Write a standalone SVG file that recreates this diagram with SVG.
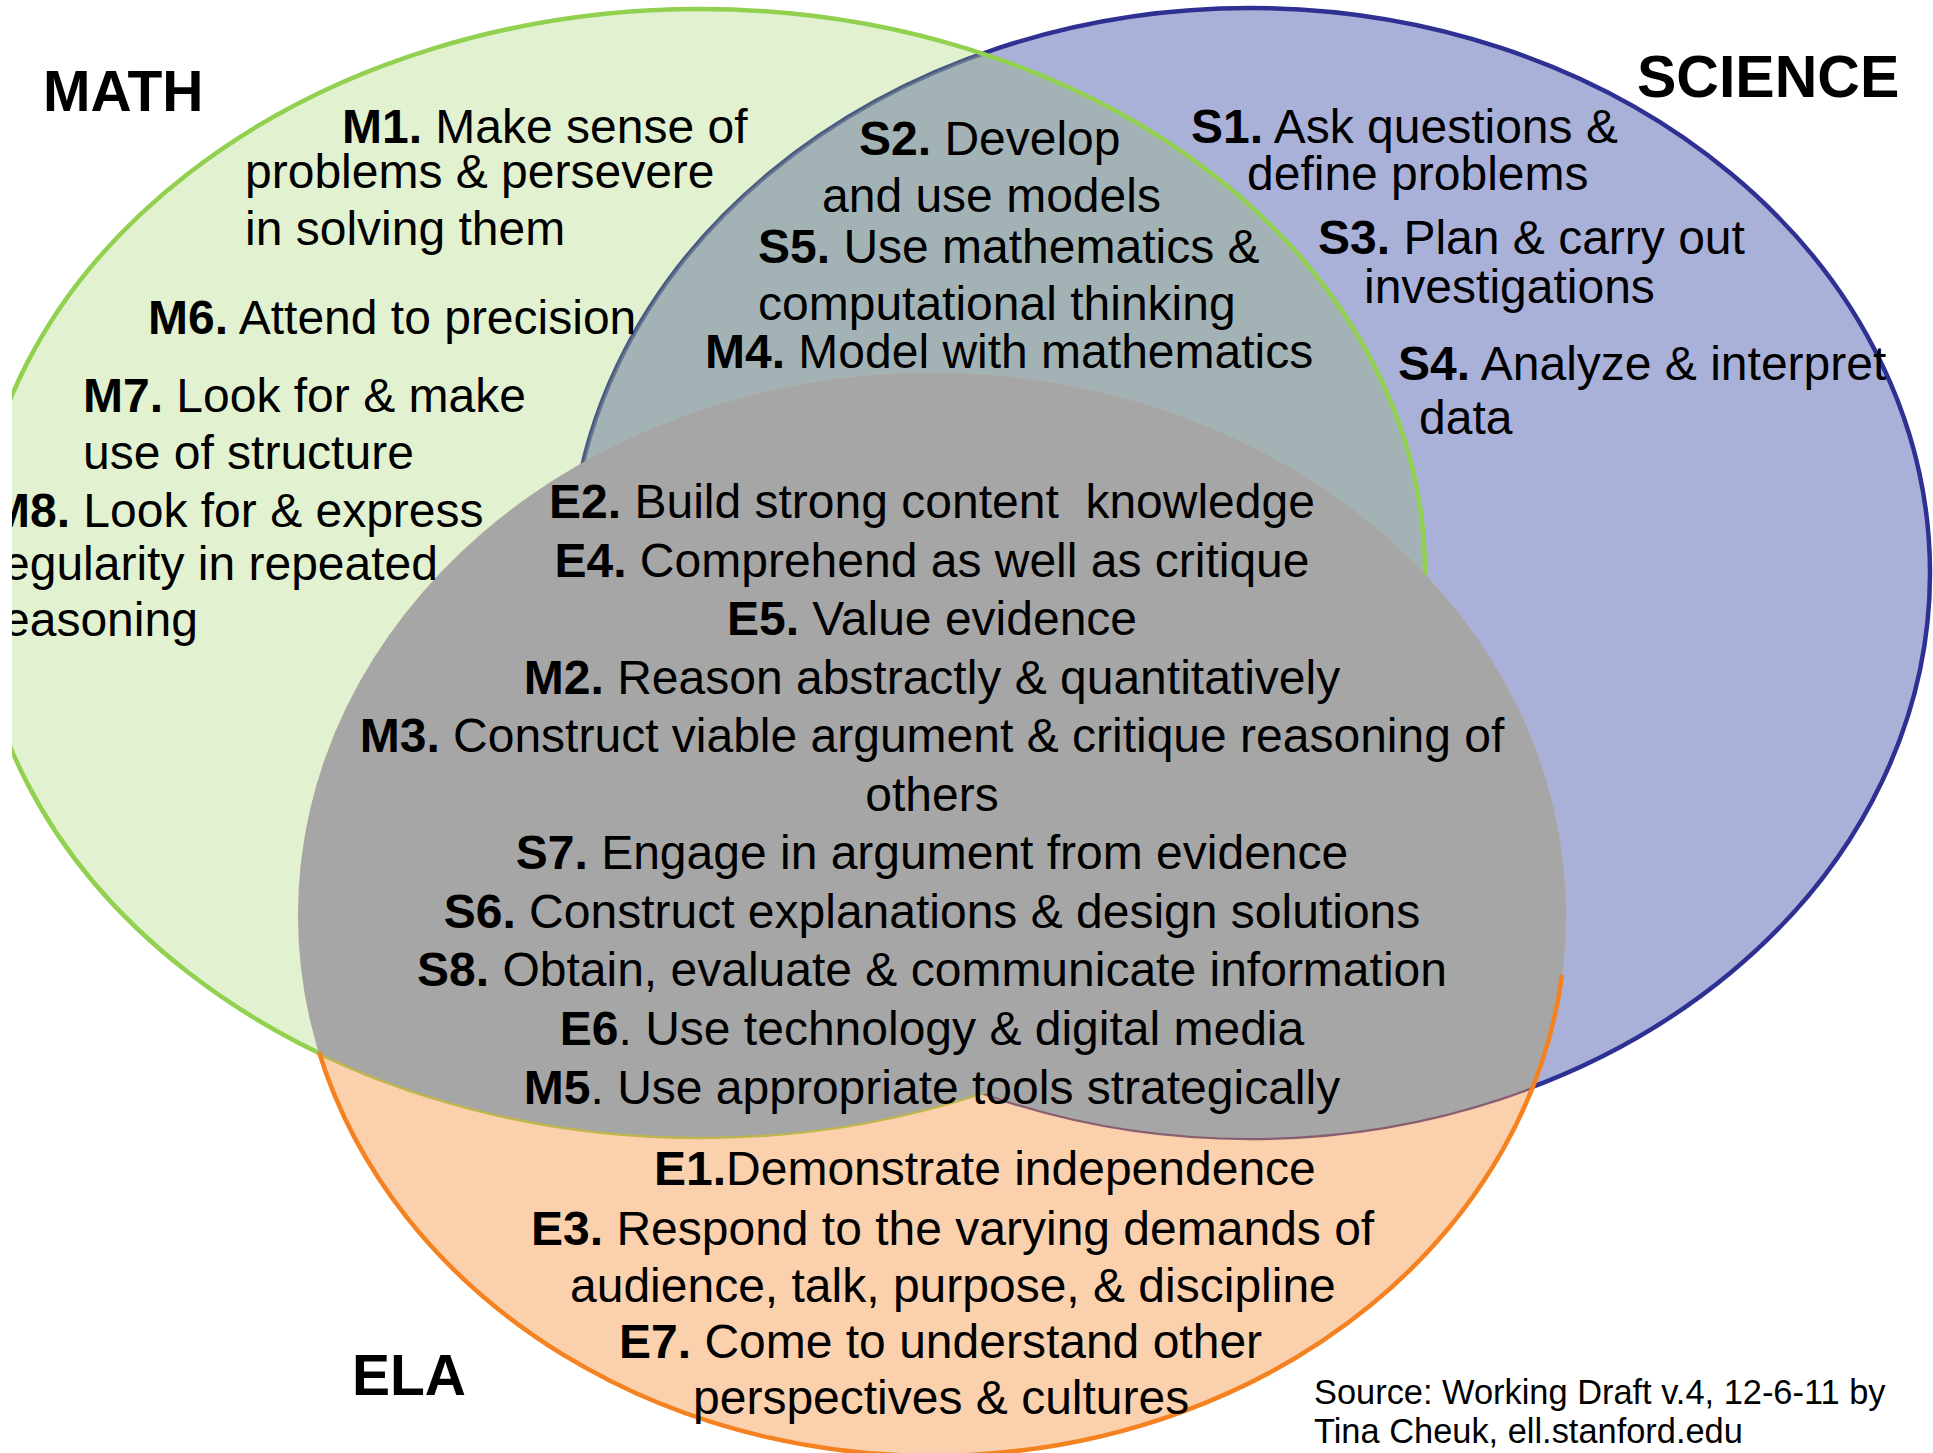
<svg xmlns="http://www.w3.org/2000/svg" width="1933" height="1453" viewBox="0 0 1933 1453">
<style>
text{font-family:"Liberation Sans",Arial,sans-serif;font-size:48px;fill:#000}
.b{font-weight:bold}
.h{font-size:57px;font-weight:bold}
.src{font-size:34.4px}
.c{text-anchor:middle}
</style>
<defs>
<clipPath id="frame"><rect x="12" y="0" width="1921" height="1453"/></clipPath>
<clipPath id="mathOrSci">
<ellipse cx="700" cy="573" rx="725" ry="564"/>
<ellipse cx="1250" cy="573" rx="680" ry="565"/>
</clipPath>
<clipPath id="mathOnly">
<ellipse cx="700" cy="573" rx="725" ry="564"/>
</clipPath>
</defs>
<rect width="1933" height="1453" fill="#fff"/>
<g clip-path="url(#frame)">
<g id="science">
<ellipse cx="1250" cy="573" rx="680" ry="565" fill="#aab1d9" stroke="#2e3192" stroke-width="4.5"/>
</g>
<g id="math">
<ellipse cx="700" cy="573" rx="725" ry="564" fill="#92d050" fill-opacity="0.27"/>
<ellipse cx="1250" cy="573" rx="680" ry="565" fill="#a2a9b8" fill-opacity="0.35" clip-path="url(#mathOnly)"/>
<ellipse cx="700" cy="573" rx="725" ry="564" fill="none" stroke="#92d050" stroke-width="4.5"/>
</g>
<g id="ela">
<ellipse cx="932" cy="915" rx="634" ry="542" fill="#f79646" fill-opacity="0.45"/>
</g>
<g id="shared-core">
<ellipse cx="932" cy="915" rx="634" ry="542" fill="#a6a6a6" clip-path="url(#mathOrSci)"/>
</g>
<g id="ela-outline">
<path d="M1562,975 A634,542 0 0 1 319,1052" fill="none" stroke="#f58220" stroke-width="4.5"/>
</g>

<g id="math-labels">
<text x="43" y="111" class="h">MATH</text>
<text x="342" y="143"><tspan class="b">M1.</tspan> Make sense of</text>
<text x="245" y="188">problems &amp; persevere</text>
<text x="245" y="245">in solving them</text>
<text x="148" y="334"><tspan class="b">M6.</tspan> Attend to precision</text>
<text x="83" y="412"><tspan class="b">M7.</tspan> Look for &amp; make</text>
<text x="83" y="469">use of structure</text>
<text x="-10" y="527"><tspan class="b">M8.</tspan> Look for &amp; express</text>
<text x="-13" y="580">regularity in repeated</text>
<text x="-13" y="636">reasoning</text>
</g>

<g id="science-labels">
<text x="1637" y="97" class="h" style="font-size:59px">SCIENCE</text>
<text x="1191" y="143"><tspan class="b">S1.</tspan> Ask questions &amp;</text>
<text x="1247" y="190">define problems</text>
<text x="1318" y="254"><tspan class="b">S3.</tspan> Plan &amp; carry out</text>
<text x="1364" y="303">investigations</text>
<text x="1398" y="380"><tspan class="b">S4.</tspan> Analyze &amp; interpret</text>
<text x="1419" y="434">data</text>
</g>

<g id="math-science-labels">
<text x="859" y="155"><tspan class="b">S2.</tspan> Develop</text>
<text x="822" y="212">and use models</text>
<text x="758" y="263"><tspan class="b">S5.</tspan> Use mathematics &amp;</text>
<text x="758" y="320">computational thinking</text>
<text x="705" y="368"><tspan class="b">M4.</tspan> Model with mathematics</text>
</g>

<g id="core-labels">
<text x="932" y="518" class="c" xml:space="preserve"><tspan class="b">E2.</tspan> Build strong content  knowledge</text>
<text x="932" y="577" class="c"><tspan class="b">E4.</tspan> Comprehend as well as critique</text>
<text x="932" y="635" class="c"><tspan class="b">E5.</tspan> Value evidence</text>
<text x="932" y="694" class="c"><tspan class="b">M2.</tspan> Reason abstractly &amp; quantitatively</text>
<text x="932" y="752" class="c"><tspan class="b">M3.</tspan> Construct viable argument &amp; critique reasoning of</text>
<text x="932" y="811" class="c">others</text>
<text x="932" y="869" class="c"><tspan class="b">S7.</tspan> Engage in argument from evidence</text>
<text x="932" y="928" class="c"><tspan class="b">S6.</tspan> Construct explanations &amp; design solutions</text>
<text x="932" y="986" class="c"><tspan class="b">S8.</tspan> Obtain, evaluate &amp; communicate information</text>
<text x="932" y="1045" class="c"><tspan class="b">E6</tspan>. Use technology &amp; digital media</text>
<text x="932" y="1104" class="c"><tspan class="b">M5</tspan>. Use appropriate tools strategically</text>
</g>

<g id="ela-labels">
<text x="352" y="1395" class="h">ELA</text>
<text x="654" y="1185"><tspan class="b">E1.</tspan>Demonstrate independence</text>
<text x="531" y="1245"><tspan class="b">E3.</tspan> Respond to the varying demands of</text>
<text x="570" y="1302">audience, talk, purpose, &amp; discipline</text>
<text x="619" y="1358"><tspan class="b">E7.</tspan> Come to understand other</text>
<text x="693" y="1414">perspectives &amp; cultures</text>
</g>

<g id="source">
<text x="1314" y="1404" class="src">Source: Working Draft v.4, 12-6-11 by</text>
<text x="1314" y="1443" class="src">Tina Cheuk, ell.stanford.edu</text>
</g>
</g>
</svg>
